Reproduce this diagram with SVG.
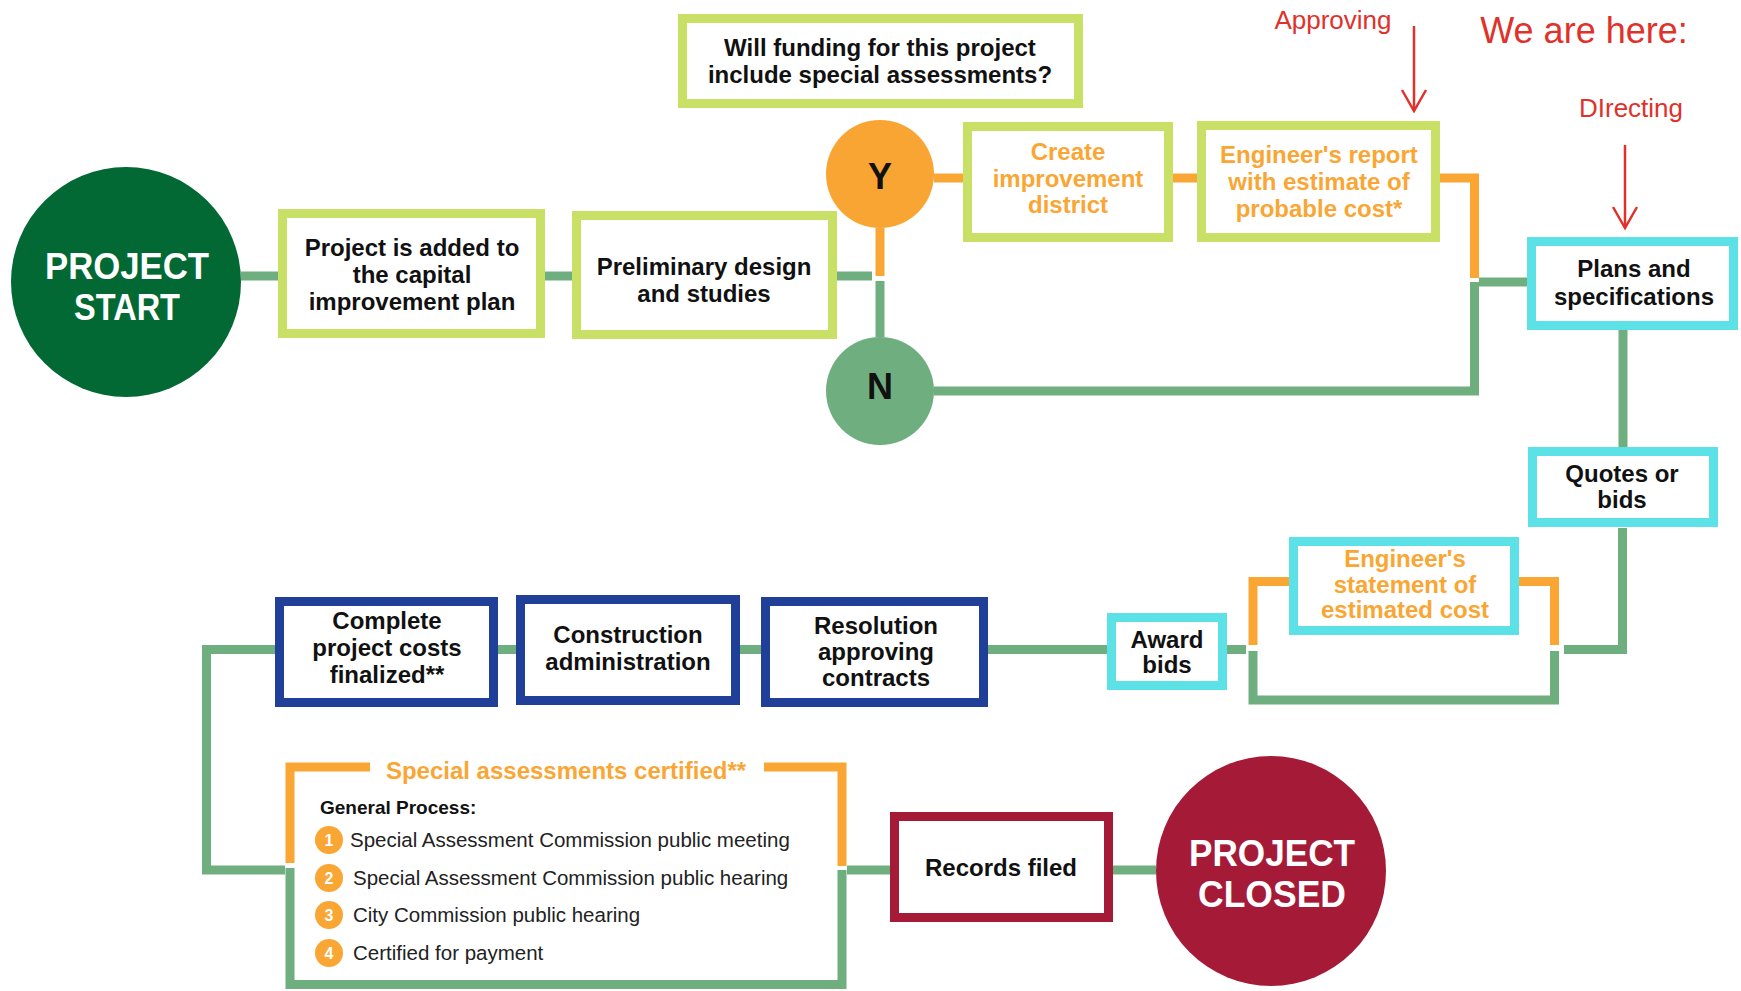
<svg xmlns="http://www.w3.org/2000/svg" width="1741" height="991" viewBox="0 0 1741 991">
<style>
.bx{fill:#fff;stroke-width:9}
.lg{stroke:#c9e066}
.cy{stroke:#5ce1e6}
.bl{stroke:#1f3f99}
.rd{stroke:#a51b37}
.t{font-family:"Liberation Sans",Arial,sans-serif;font-weight:bold;font-size:24px;fill:#111;text-anchor:middle}
.o{fill:#f9a634}
.w{fill:#fff}
.big{font-size:36px}
.c{fill:none;stroke-width:9;stroke-linecap:butt;stroke-linejoin:miter}
.g{stroke:#6fae7f}
.or{stroke:#f9a634}
.ann{font-family:"Liberation Sans",Arial,sans-serif;fill:#e0312a}
.it{font-family:"Liberation Sans",Arial,sans-serif;font-size:20.5px;fill:#222}
.num{font-family:"Liberation Sans",Arial,sans-serif;font-weight:bold;font-size:16px;fill:#fff;text-anchor:middle}
</style>
<defs>
<marker id="ah" viewBox="-24 -15 30 30" refX="0" refY="0" markerWidth="30" markerHeight="30" markerUnits="userSpaceOnUse" orient="auto" overflow="visible">
<path d="M-21,-12 L0,0 L-21,12" fill="none" stroke="#e0312a" stroke-width="2.5"/>
</marker>
</defs>

<g id="connectors">
<path class="c g" d="M241 276 H278"/>
<path class="c g" d="M545 276 H572"/>
<path class="c g" d="M837 276 H872"/>
<path class="c or" d="M880 228 V276"/>
<path class="c g" d="M880 281 V337"/>
<path class="c g" d="M934 391 H1474.5 V282"/>
<path class="c or" d="M934 178 H963"/>
<path class="c or" d="M1173 178 H1197"/>
<path class="c or" d="M1440 178 H1474.5 V278"/>
<path class="c g" d="M1479 282 H1527"/>
<path class="c g" d="M1623 330 V447"/>
<path class="c g" d="M1622.5 528 V649.5 H1564"/>
<path class="c or" d="M1289 581.5 H1253 V645"/>
<path class="c or" d="M1519 581.5 H1554.5 V645"/>
<path class="c g" d="M1253 651 V700 H1554.5 V651"/>
<path class="c g" d="M1227 649.5 H1246"/>
<path class="c g" d="M988 649.5 H1107"/>
<path class="c g" d="M740 649.5 H761"/>
<path class="c g" d="M498 649.5 H516"/>
<path class="c g" d="M275 649.5 H206.5 V870 H285"/>
<path class="c or" d="M290 863 V767 H370"/>
<path class="c or" d="M764 767 H842 V866"/>
<path class="c g" d="M290 868 V984.5 H842 V870"/>
<path class="c g" d="M847 870 H890"/>
<path class="c g" d="M1113 870 H1156"/>
</g>

<g id="annotations">
<text class="ann" x="1333" y="29" font-size="26" text-anchor="middle">Approving</text>
<path d="M1414 26 V111" stroke="#e0312a" stroke-width="2.5" fill="none" marker-end="url(#ah)"/>
<text class="ann" x="1584" y="43" font-size="36" text-anchor="middle">We are here:</text>
<text class="ann" x="1631" y="117" font-size="26" text-anchor="middle">DIrecting</text>
<path d="M1625 145 V228" stroke="#e0312a" stroke-width="2.5" fill="none" marker-end="url(#ah)"/>
</g>

<g id="project-start">
<circle cx="126" cy="282" r="115" fill="#036934"/>
<text class="t w big" x="127" y="279" textLength="164" lengthAdjust="spacingAndGlyphs">PROJECT</text>
<text class="t w big" x="127" y="320" textLength="106" lengthAdjust="spacingAndGlyphs">START</text>
</g>

<g id="capital-plan">
<rect class="bx lg" x="282.5" y="213.5" width="258" height="120"/>
<text class="t" x="412" y="256">Project is added to</text>
<text class="t" x="412" y="283">the capital</text>
<text class="t" x="412" y="310">improvement plan</text>
</g>

<g id="preliminary">
<rect class="bx lg" x="576.5" y="215.5" width="256" height="119"/>
<text class="t" x="704" y="275">Preliminary design</text>
<text class="t" x="704" y="302">and studies</text>
</g>

<g id="question">
<rect class="bx lg" x="682.5" y="18.5" width="396" height="85"/>
<text class="t" x="880" y="56">Will funding for this project</text>
<text class="t" x="880" y="83">include special assessments?</text>
</g>

<g id="yes">
<circle cx="880" cy="174" r="54" fill="#f9a533"/>
<text class="t" x="880" y="189" style="font-size:36px">Y</text>
</g>

<g id="no">
<circle cx="880" cy="391" r="54" fill="#6fae7f"/>
<text class="t" x="880" y="399" style="font-size:36px">N</text>
</g>

<g id="create-district">
<rect class="bx lg" x="967.5" y="126.5" width="201" height="111"/>
<text class="t o" x="1068" y="160">Create</text>
<text class="t o" x="1068" y="187">improvement</text>
<text class="t o" x="1068" y="213">district</text>
</g>

<g id="engineer-report">
<rect class="bx lg" x="1201.5" y="125.5" width="234" height="112"/>
<text class="t o" x="1319" y="163">Engineer's report</text>
<text class="t o" x="1319" y="190">with estimate of</text>
<text class="t o" x="1319" y="217">probable cost*</text>
</g>

<g id="plans">
<rect class="bx cy" x="1531.5" y="241.5" width="202" height="84"/>
<text class="t" x="1634" y="277">Plans and</text>
<text class="t" x="1634" y="305">specifications</text>
</g>

<g id="quotes">
<rect class="bx cy" x="1532.5" y="451.5" width="181" height="71"/>
<text class="t" x="1622" y="482">Quotes or</text>
<text class="t" x="1622" y="508">bids</text>
</g>

<g id="engineer-statement">
<rect class="bx cy" x="1293.5" y="541.5" width="221" height="89"/>
<text class="t o" x="1405" y="567">Engineer's</text>
<text class="t o" x="1405" y="593">statement of</text>
<text class="t o" x="1405" y="618">estimated cost</text>
</g>

<g id="award">
<rect class="bx cy" x="1111.5" y="617.5" width="111" height="68"/>
<text class="t" x="1167" y="648">Award</text>
<text class="t" x="1167" y="673">bids</text>
</g>

<g id="resolution">
<rect class="bx bl" x="765.5" y="601.5" width="218" height="101"/>
<text class="t" x="876" y="634">Resolution</text>
<text class="t" x="876" y="660">approving</text>
<text class="t" x="876" y="686">contracts</text>
</g>

<g id="construction">
<rect class="bx bl" x="520.5" y="599.5" width="215" height="101"/>
<text class="t" x="628" y="643">Construction</text>
<text class="t" x="628" y="670">administration</text>
</g>

<g id="complete">
<rect class="bx bl" x="279.5" y="601.5" width="214" height="101"/>
<text class="t" x="387" y="629">Complete</text>
<text class="t" x="387" y="656">project costs</text>
<text class="t" x="387" y="683">finalized**</text>
</g>

<g id="special-assessments">
<text class="t o" x="566" y="779">Special assessments certified**</text>
<text class="t" x="320" y="814" style="font-size:19px;text-anchor:start">General Process:</text>
<circle cx="329" cy="840" r="14" fill="#f9a634"/>
<text class="num" x="329" y="846">1</text>
<text class="it" x="350" y="847">Special Assessment Commission public meeting</text>
<circle cx="329" cy="878" r="14" fill="#f9a634"/>
<text class="num" x="329" y="884">2</text>
<text class="it" x="353" y="885">Special Assessment Commission public hearing</text>
<circle cx="329" cy="915" r="14" fill="#f9a634"/>
<text class="num" x="329" y="921">3</text>
<text class="it" x="353" y="922">City Commission public hearing</text>
<circle cx="329" cy="953" r="14" fill="#f9a634"/>
<text class="num" x="329" y="959">4</text>
<text class="it" x="353" y="960">Certified for payment</text>
</g>

<g id="records">
<rect class="bx rd" x="894.5" y="816.5" width="214" height="101"/>
<text class="t" x="1001" y="876">Records filed</text>
</g>

<g id="project-closed">
<circle cx="1271" cy="871" r="115" fill="#a51b37"/>
<text class="t w big" x="1272" y="866" textLength="166" lengthAdjust="spacingAndGlyphs">PROJECT</text>
<text class="t w big" x="1272" y="907" textLength="148" lengthAdjust="spacingAndGlyphs">CLOSED</text>
</g>
</svg>
